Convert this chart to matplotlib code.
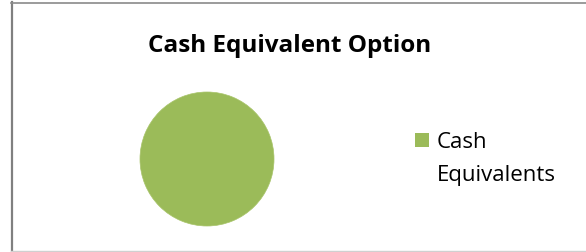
import matplotlib
matplotlib.use("Agg")
import matplotlib.pyplot as plt
from matplotlib.patches import Rectangle
from matplotlib.lines import Line2D

title = "Cash Equivalent Option"
label_lines = ["Cash", "Equivalents"]
values = [100]
colors = ["#9BBB59"]

plt.rcParams['font.family'] = ['Open Sans', 'DejaVu Sans']

W, H = 586, 252
fig = plt.figure(figsize=(W / 100, H / 100), dpi=100)

# chart frame: dark left/top, light bottom
fig.add_artist(Line2D([11.5 / W, 11.5 / W], [0, 1 - 2 / H], transform=fig.transFigure,
                      color="#808080", linewidth=1.6))
fig.add_artist(Line2D([11 / W, 1], [1 - 2.5 / H, 1 - 2.5 / H], transform=fig.transFigure,
                      color="#8a8a8a", linewidth=1.2))
fig.add_artist(Line2D([11 / W, 1], [1.2 / H, 1.2 / H], transform=fig.transFigure,
                      color="#d0d0d0", linewidth=1.0))

# pie
ax = fig.add_axes([140 / W, 26 / H, 134 / W, 134 / H])
ax.pie(values, colors=colors, startangle=90, counterclock=False, radius=1,
       wedgeprops=dict(edgecolor="#a8c46a", linewidth=0.5))
ax.set_xlim(-1, 1)
ax.set_ylim(-1, 1)
ax.set_aspect("equal")
ax.axis("off")

fig.text(290 / W, 1 - 52 / H, title, ha="center", va="baseline",
         fontsize=17.5, fontweight="bold")

# legend
fig.patches.append(Rectangle((415 / W, 1 - 147 / H), 14 / W, 14 / H,
                             transform=fig.transFigure, facecolor=colors[0],
                             edgecolor="none"))
fig.text(437 / W, 1 - 148 / H, label_lines[0], ha="left", va="baseline", fontsize=16)
fig.text(437 / W, 1 - 181 / H, label_lines[1], ha="left", va="baseline", fontsize=16)

fig.savefig("out.png", dpi=100)
